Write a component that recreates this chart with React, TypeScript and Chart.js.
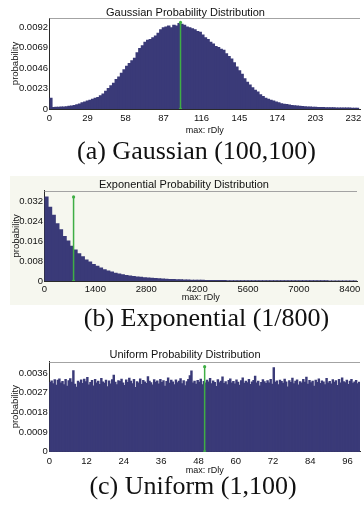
import React, { useEffect, useRef } from 'react';
import { Chart, registerables } from 'chart.js';

Chart.register(...registerables);

// ---------- DATA ----------
// (a) Gaussian (100,100): bins of width 2 starting at 0
const gaussBinStart = 0;
const gaussBinWidth = 2;
const gaussValues = [
  0.0012, 0.00018, 0.0002, 0.0002, 0.00022, 0.00024, 0.00027, 0.0003, 0.00034, 0.0004,
  0.00048, 0.00058, 0.0007, 0.0008, 0.0009, 0.001, 0.0011, 0.0012, 0.0013, 0.0015,
  0.0017, 0.002, 0.0023, 0.0026, 0.0029, 0.0033, 0.0036, 0.004, 0.0044, 0.0048,
  0.0051, 0.0054, 0.0057, 0.0063, 0.0068, 0.0071, 0.0075, 0.0077, 0.0078, 0.008,
  0.0082, 0.0085, 0.0089, 0.0091, 0.0092, 0.0093, 0.0091, 0.0094, 0.0093, 0.0096,
  0.0095, 0.0094, 0.0092, 0.0091, 0.009, 0.0089, 0.0087, 0.0086, 0.0083, 0.008,
  0.0078, 0.0075, 0.0073, 0.007, 0.0069, 0.0067, 0.0066, 0.0062, 0.0059, 0.0056,
  0.0052, 0.0047, 0.0043, 0.0039, 0.0034, 0.003, 0.0027, 0.0024, 0.0021, 0.0019,
  0.0016, 0.0014, 0.0012, 0.0011, 0.001, 0.0009, 0.0008, 0.0007, 0.0006, 0.00055,
  0.0005, 0.00045, 0.0004, 0.00036, 0.00033, 0.0003, 0.00028, 0.00026, 0.00024, 0.00022,
  0.0002, 0.00019, 0.00018, 0.00017, 0.00016, 0.00015, 0.00015, 0.00014, 0.00014, 0.00013,
  0.00013, 0.00012, 0.00012, 0.00011, 0.00011, 0.0001, 0.0001, 0.0001,
];
const gaussXTicks = [0, 29, 58, 87, 116, 145, 174, 203, 232];
const gaussXTickLabels = ['0', '29', '58', '87', '116', '145', '174', '203', '232'];
const gaussYTicks = [0, 0.0023, 0.0046, 0.0069, 0.0092];
const gaussYTickLabels = ['0', '0.0023', '0.0046', '0.0069', '0.0092'];
const gaussMarkerX = 100;
const gaussMarkerTop = 0.0097;
const gaussXMax = 237;
const gaussYMax = 0.0102;

// (b) Exponential (1/800): bins of width 100 starting at 0
const expoBinStart = 0;
const expoBinWidth = 100;
const expoValues = [
  0.034, 0.0298, 0.0266, 0.0232, 0.0207, 0.018, 0.0162, 0.0141, 0.0126, 0.011,
  0.0098, 0.0085, 0.0077, 0.0067, 0.006, 0.0053, 0.0046, 0.0041, 0.0037, 0.0032,
  0.0029, 0.0025, 0.0022, 0.002, 0.0018, 0.0016, 0.0015, 0.0013, 0.0012, 0.0011,
  0.001, 0.0009, 0.0008, 0.0007, 0.00065, 0.0006, 0.00055, 0.0005, 0.00045, 0.0004,
  0.00037, 0.00034, 0.00031, 0.00028, 0.00026, 0.00024, 0.00022, 0.0002, 0.00019, 0.00018,
  0.00017, 0.00016, 0.00016, 0.00015, 0.00015, 0.00014, 0.00014, 0.00013, 0.00013, 0.00012,
  0.00012, 0.00012, 0.00011, 0.00011, 0.00011, 0.0001, 0.0001, 0.0001, 0.0001, 0.00009,
  0.00009, 0.00009, 0.00009, 0.00008, 0.00008, 0.00008, 0.00008, 0.00008, 0.00007, 0.00007,
  0.00007, 0.00007, 0.00007, 0.00006, 0.00006, 0.00006,
];
const expoXTicks = [0, 1400, 2800, 4200, 5600, 7000, 8400];
const expoXTickLabels = ['0', '1400', '2800', '4200', '5600', '7000', '8400'];
const expoYTicks = [0, 0.008, 0.016, 0.024, 0.032];
const expoYTickLabels = ['0', '0.008', '0.016', '0.024', '0.032'];
const expoMarkerX = 800;
const expoMarkerTop = 0.034;
const expoXMax = 8600;
const expoYMax = 0.0365;

// (c) Uniform (1,100): bins of width 0.5 starting at 0
const unifBinStart = 0;
const unifBinWidth = 0.5;
const unifValues = [
  0.00318, 0.00325, 0.00312, 0.0033, 0.00305, 0.00328, 0.00334, 0.00316, 0.00322, 0.00308,
  0.00331, 0.003, 0.00326, 0.00335, 0.00319, 0.00372, 0.0031, 0.00296, 0.00324, 0.00317,
  0.00329, 0.00313, 0.00333, 0.00321, 0.00341, 0.00306, 0.00318, 0.00327, 0.00302, 0.00332,
  0.00315, 0.00323, 0.00309, 0.00336, 0.0032, 0.00314, 0.00328, 0.00298, 0.00325, 0.00311,
  0.0033, 0.00351, 0.00319, 0.00307, 0.00326, 0.00322, 0.00333, 0.00315, 0.00304, 0.00329,
  0.00318, 0.00337, 0.00324, 0.00312, 0.00331, 0.00295, 0.00321, 0.00316, 0.00334, 0.00309,
  0.00327, 0.0032, 0.00313, 0.00344, 0.00323, 0.00317, 0.00306, 0.0033, 0.00319, 0.00325,
  0.00311, 0.00332, 0.00318, 0.00326, 0.00301, 0.00322, 0.00339, 0.00314, 0.00328, 0.0032,
  0.00308, 0.00329, 0.00317, 0.00323, 0.00335, 0.00312, 0.00326, 0.00303, 0.00321, 0.00331,
  0.00349, 0.0037, 0.00316, 0.00324, 0.0031, 0.00327, 0.00319, 0.00333, 0.00307, 0.00322,
  0.00315, 0.00328, 0.0032, 0.00336, 0.00312, 0.00325, 0.00318, 0.00299, 0.0033, 0.00317,
  0.00324, 0.00343, 0.00313, 0.00321, 0.00308, 0.00327, 0.00334, 0.00316, 0.00322, 0.00311,
  0.00329, 0.00319, 0.00305, 0.00326, 0.00338, 0.00314, 0.00323, 0.00317, 0.00331, 0.00309,
  0.0032, 0.00327, 0.00346, 0.00315, 0.00324, 0.00302, 0.00318, 0.0033, 0.00321, 0.00313,
  0.00326, 0.00316, 0.00332, 0.0031, 0.00385, 0.00319, 0.00325, 0.00307, 0.00328, 0.00322,
  0.00314, 0.00333, 0.0032, 0.00297, 0.00326, 0.00318, 0.00337, 0.00312, 0.00324, 0.00329,
  0.00306, 0.00321, 0.00315, 0.00331, 0.00319, 0.00342, 0.0031, 0.00327, 0.00317, 0.00323,
  0.003, 0.00328, 0.00318, 0.00334, 0.00313, 0.00325, 0.0032, 0.00308, 0.00336, 0.00316,
  0.00322, 0.00311, 0.0033, 0.00319, 0.00326, 0.00304, 0.00332, 0.00315, 0.00339, 0.00321,
  0.00317, 0.00328, 0.00309, 0.00324, 0.00331, 0.00314, 0.0032, 0.00327, 0.00312, 0.00319,
];
const unifXTicks = [0, 12, 24, 36, 48, 60, 72, 84, 96];
const unifXTickLabels = ['0', '12', '24', '36', '48', '60', '72', '84', '96'];
const unifYTicks = [0, 0.0009, 0.0018, 0.0027, 0.0036];
const unifYTickLabels = ['0', '0.0009', '0.0018', '0.0027', '0.0036'];
const unifMarkerX = 50;
const unifMarkerTop = 0.0039;
const unifXMax = 100;
const unifYMax = 0.00413;

const X_TITLE = 'max: rDly';
const Y_TITLE = 'probability';

// ---------- STYLE ----------
const BAR_COLOR = 'rgb(58,58,120)';
const GREEN = '#3fae45';
const SANS = '"Liberation Sans", Arial, sans-serif';
const SERIF = '"Liberation Serif", "Times New Roman", serif';

const frameTop = {
  id: 'frameTop',
  afterDatasetsDraw(chart: any) {
    const { ctx, chartArea } = chart;
    ctx.save();
    ctx.strokeStyle = '#a3a3a3';
    ctx.lineWidth = 1;
    ctx.beginPath();
    ctx.moveTo(chartArea.left, Math.round(chartArea.top) + 0.5);
    ctx.lineTo(chartArea.right, Math.round(chartArea.top) + 0.5);
    ctx.stroke();
    ctx.restore();
  },
};

type PanelData = {
  title: string;
  values: number[];
  binStart: number;
  binWidth: number;
  xTicks: number[];
  xTickLabels: string[];
  yTicks: number[];
  yTickLabels: string[];
  markerX: number;
  markerTop: number;
  xMax: number;
  yMax: number;
};

type PanelLayout = {
  left: number;
  top: number;
  width: number;
  height: number;
  bg: string;
  pad: { left: number; right: number; top: number; bottom: number };
  titlePad: { top: number; bottom: number };
  yAxisWidth: number;
  xAxisHeight: number;
  xTickPad: number;
  xTitlePad: number;
};

function buildConfig(d: PanelData, l: PanelLayout): any {
  const labels = d.values.map((_, i) => d.binStart + d.binWidth * (i + 0.5));
  const tickFont = { family: SANS, size: 9.5 };
  return {
    type: 'bar',
    data: {
      labels,
      datasets: [
        {
          type: 'bar',
          data: d.values,
          backgroundColor: BAR_COLOR,
          borderWidth: 0,
          barPercentage: 1,
          categoryPercentage: 1,
          inflateAmount: 0.45,
          order: 1,
        },
        {
          type: 'line',
          data: [
            { x: d.markerX, y: 0 },
            { x: d.markerX, y: d.markerTop },
          ],
          borderColor: GREEN,
          borderWidth: 1.5,
          pointRadius: 1.6,
          pointBackgroundColor: GREEN,
          pointBorderWidth: 0,
          order: 0,
        },
      ],
    },
    options: {
      animation: false,
      responsive: false,
      devicePixelRatio: 1,
      events: [],
      layout: { padding: l.pad },
      plugins: {
        legend: { display: false },
        tooltip: { enabled: false },
        title: {
          display: true,
          text: d.title,
          color: '#111',
          font: { family: SANS, size: 11, weight: 'normal', lineHeight: 1 },
          padding: l.titlePad,
        },
      },
      scales: {
        x: {
          type: 'linear',
          min: 0,
          max: d.xMax,
          offset: false,
          grid: { display: false, drawTicks: false },
          border: { display: true, color: '#2a2a2a', width: 1 },
          ticks: {
            font: tickFont,
            color: '#111',
            padding: l.xTickPad,
            maxRotation: 0,
            autoSkip: false,
            callback: (_v: any, i: number) => d.xTickLabels[i],
          },
          afterBuildTicks: (s: any) => {
            s.ticks = d.xTicks.map((v) => ({ value: v }));
          },
          afterFit: (s: any) => {
            s.height = l.xAxisHeight;
            s.paddingLeft = 0;
            s.paddingRight = 0;
          },
          title: {
            display: true,
            text: X_TITLE,
            color: '#111',
            font: { family: SANS, size: 9 },
            padding: { top: 0, bottom: l.xTitlePad },
          },
        },
        y: {
          type: 'linear',
          min: 0,
          max: d.yMax,
          grid: { display: false, drawTicks: false },
          border: { display: true, color: '#2a2a2a', width: 1 },
          ticks: {
            font: tickFont,
            color: '#111',
            padding: 1.5,
            autoSkip: false,
            callback: (_v: any, i: number) => d.yTickLabels[i],
          },
          afterBuildTicks: (s: any) => {
            s.ticks = d.yTicks.map((v) => ({ value: v }));
          },
          afterFit: (s: any) => {
            s.width = l.yAxisWidth;
            s.paddingTop = 0;
            s.paddingBottom = 0;
          },
          title: {
            display: true,
            text: Y_TITLE,
            color: '#111',
            font: { family: SANS, size: 9.5 },
            padding: 0,
          },
        },
      },
    },
    plugins: [frameTop],
  };
}

function HistPanel({ data, layout }: { data: PanelData; layout: PanelLayout }) {
  const ref = useRef<HTMLCanvasElement | null>(null);
  useEffect(() => {
    if (!ref.current) return;
    const chart = new Chart(ref.current, buildConfig(data, layout));
    return () => chart.destroy();
  }, [data, layout]);
  return (
    <canvas
      ref={ref}
      width={layout.width}
      height={layout.height}
      style={{
        position: 'absolute',
        left: layout.left,
        top: layout.top,
        width: layout.width,
        height: layout.height,
        background: layout.bg,
        display: 'block',
      }}
    />
  );
}

const gaussData: PanelData = {
  title: 'Gaussian Probability Distribution',
  values: gaussValues,
  binStart: gaussBinStart,
  binWidth: gaussBinWidth,
  xTicks: gaussXTicks,
  xTickLabels: gaussXTickLabels,
  yTicks: gaussYTicks,
  yTickLabels: gaussYTickLabels,
  markerX: gaussMarkerX,
  markerTop: gaussMarkerTop,
  xMax: gaussXMax,
  yMax: gaussYMax,
};
const expoData: PanelData = {
  title: 'Exponential Probability Distribution',
  values: expoValues,
  binStart: expoBinStart,
  binWidth: expoBinWidth,
  xTicks: expoXTicks,
  xTickLabels: expoXTickLabels,
  yTicks: expoYTicks,
  yTickLabels: expoYTickLabels,
  markerX: expoMarkerX,
  markerTop: expoMarkerTop,
  xMax: expoXMax,
  yMax: expoYMax,
};
const unifData: PanelData = {
  title: 'Uniform Probability Distribution',
  values: unifValues,
  binStart: unifBinStart,
  binWidth: unifBinWidth,
  xTicks: unifXTicks,
  xTickLabels: unifXTickLabels,
  yTicks: unifYTicks,
  yTickLabels: unifYTickLabels,
  markerX: unifMarkerX,
  markerTop: unifMarkerTop,
  xMax: unifXMax,
  yMax: unifYMax,
};

const gaussLayout: PanelLayout = {
  left: 0, top: 0, width: 364, height: 138, bg: '#ffffff',
  pad: { left: 10, right: 3, top: 0, bottom: 0 },
  titlePad: { top: 7, bottom: 0 },
  yAxisWidth: 39.5, xAxisHeight: 29, xTickPad: 4, xTitlePad: 1.6,
};
const expoLayout: PanelLayout = {
  left: 10, top: 176, width: 354, height: 129, bg: '#f6f7ef',
  pad: { left: 1, right: 7, top: 0, bottom: 0 },
  titlePad: { top: 3.5, bottom: 0.2 },
  yAxisWidth: 33.5, xAxisHeight: 24, xTickPad: 2.8, xTitlePad: 1.6,
};
const unifLayout: PanelLayout = {
  left: 0, top: 344, width: 364, height: 132, bg: '#ffffff',
  pad: { left: 10, right: 4, top: 0, bottom: 0 },
  titlePad: { top: 5.5, bottom: 1.2 },
  yAxisWidth: 39.3, xAxisHeight: 24.3, xTickPad: 3.6, xTitlePad: 0.1,
};

const captionStyle = (cx: number, top: number): React.CSSProperties => ({
  position: 'absolute',
  left: cx,
  top,
  transform: 'translateX(-50%)',
  fontFamily: SERIF,
  fontSize: 26,
  lineHeight: '26px',
  whiteSpace: 'nowrap',
  color: '#111',
});

export default function App() {
  return (
    <div
      style={{
        position: 'absolute',
        left: 0,
        top: 0,
        width: 364,
        height: 510,
        overflow: 'hidden',
        background: '#ffffff',
      }}
    >
      <HistPanel data={gaussData} layout={gaussLayout} />
      <div style={captionStyle(196.5, 138)}>(a) Gaussian (100,100)</div>
      <HistPanel data={expoData} layout={expoLayout} />
      <div style={captionStyle(206.5, 305)}>(b) Exponential (1/800)</div>
      <HistPanel data={unifData} layout={unifLayout} />
      <div style={captionStyle(193, 473)}>(c) Uniform (1,100)</div>
    </div>
  );
}
